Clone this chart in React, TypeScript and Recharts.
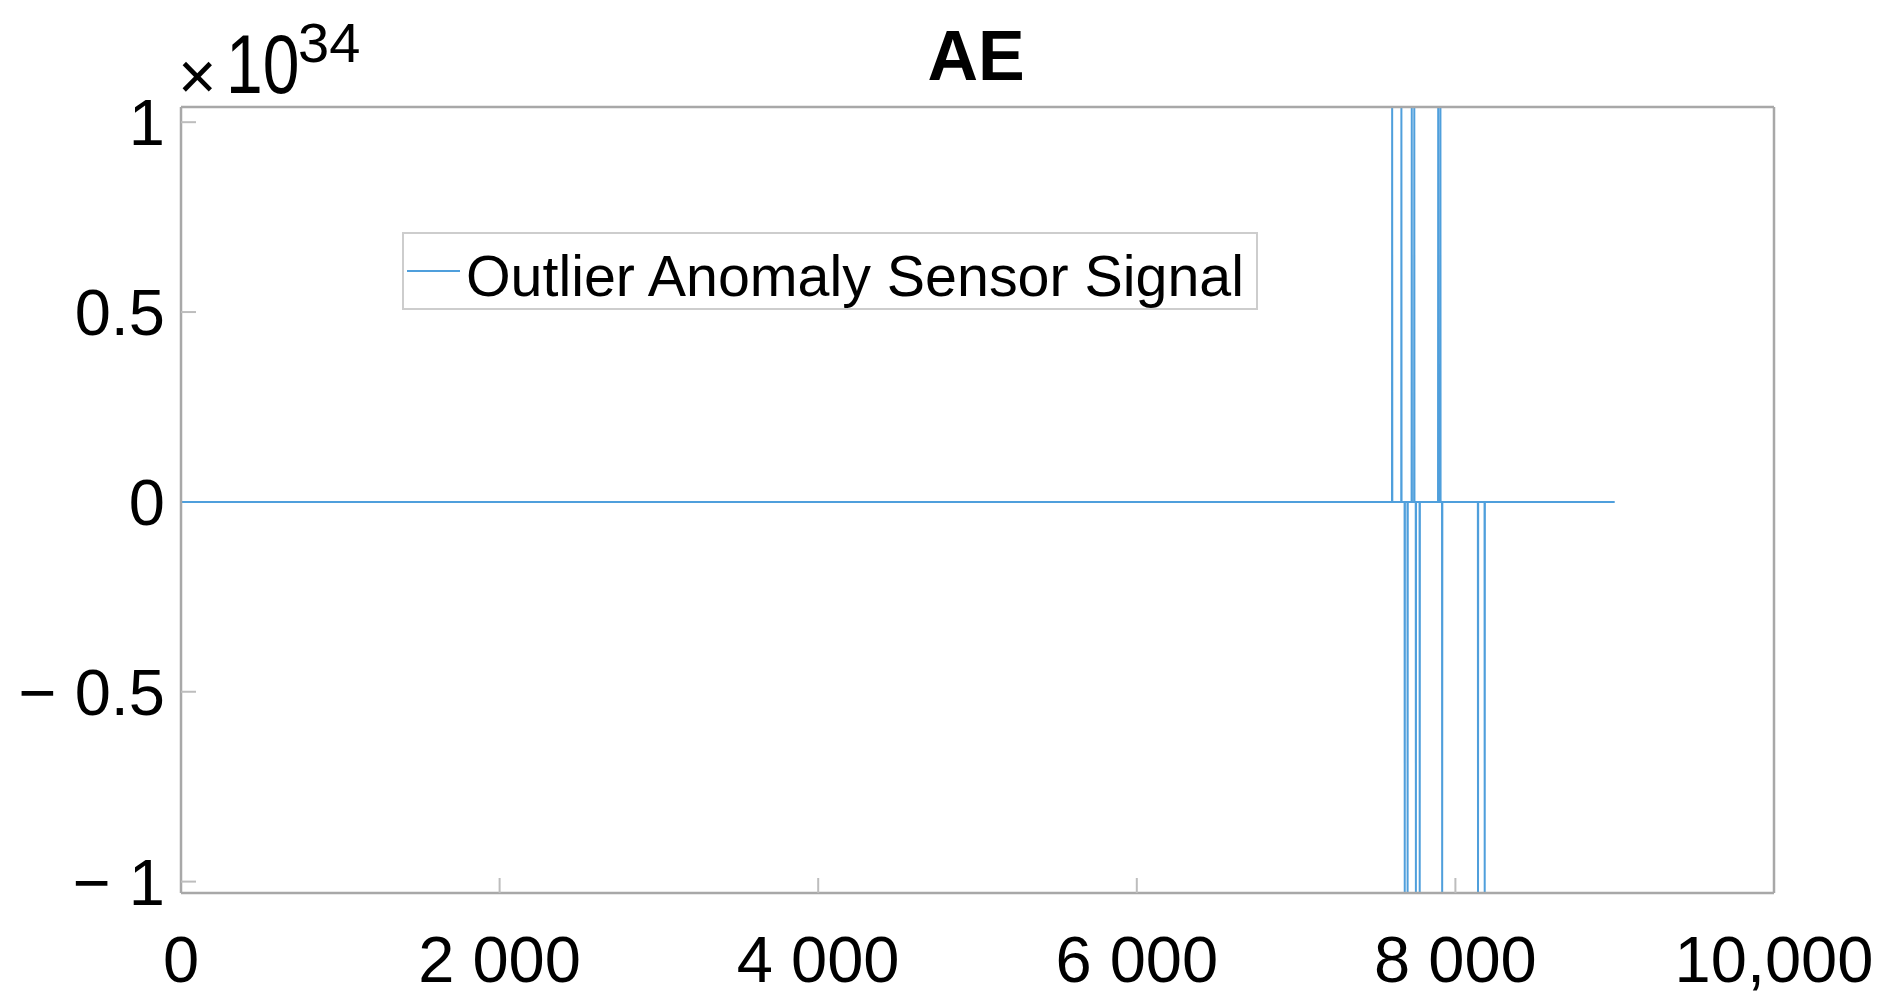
import { LineChart, Line, XAxis, YAxis, Legend } from 'recharts';

const title = 'AE';
const seriesName = 'Outlier Anomaly Sensor Signal';
const sampleCount = 9000;
// outlier samples: index and value (values in units of 1e34)
const spikeIndex = [7603, 7661, 7682, 7700, 7726, 7742, 7752, 7776, 7892, 7906, 7917, 8142, 8184];
const spikeValue = [1.04, 1.04, -1.03, -1.03, 1.04, 1.04, -1.03, -1.03, 1.04, 1.04, -1.03, -1.03, -1.03];
const xTicks = [0, 2000, 4000, 6000, 8000, 10000];
const xTickLabels = ['0', '2 000', '4 000', '6 000', '8 000', '10,000'];
const yTicks = [-1, -0.5, 0, 0.5, 1];
const yTickLabels = ['\u2212 1', '\u2212 0.5', '0', '0.5', '1'];

const font = '"Liberation Sans", Arial, sans-serif';
const blue = '#4f9fdc';
const axisGray = '#a8a8a8';
const tickGray = '#bdbdbd';
const yTickMargin = 31;

// signal is zero everywhere except the outlier samples
const data: { x: number; y: number }[] = [{ x: 0, y: 0 }];
spikeIndex.forEach((i, k) => {
  data.push({ x: i - 1, y: 0 }, { x: i, y: spikeValue[k] }, { x: i + 1, y: 0 });
});
data.push({ x: sampleCount, y: 0 });

const tickStyle = { fontSize: 65, fill: '#000', fontFamily: font };

// left tick: label plus inward mark (no mark at zero, the signal covers it there)
function YTick(props: any) {
  const { x, y, payload } = props;
  const v = payload.value;
  return (
    <g>
      {v !== 0 && (
        <line x1={x + yTickMargin - 15} x2={x + yTickMargin} y1={y} y2={y} stroke={tickGray} strokeWidth={2} />
      )}
      <text x={x} y={y} dy="0.355em" textAnchor="end" {...tickStyle}>
        {yTickLabels[yTicks.indexOf(v)]}
      </text>
    </g>
  );
}

function LegendBox(props: any) {
  const item = props.payload && props.payload[0];
  return (
    <svg width={856} height={78} style={{ display: 'block' }}>
      <rect x={1} y={1} width={854} height={76} fill="#fff" stroke="#cdcdcd" strokeWidth={2} />
      <line x1={5} x2={58} y1={39} y2={39} stroke={item ? item.color : blue} strokeWidth={2} />
      <text x={64} y={64} fontSize={58} fontFamily={font} fill="#000" textLength={778} lengthAdjust="spacingAndGlyphs">
        {item ? item.value : seriesName}
      </text>
    </svg>
  );
}

export default function App() {
  return (
    <div style={{ position: 'absolute', left: 0, top: 0, width: 1890, height: 1008, background: '#fff' }}>
      <LineChart width={1890} height={1008} data={data} margin={{ top: 47, right: 56, bottom: 55, left: 121 }}>
        <XAxis
          xAxisId="b"
          dataKey="x"
          type="number"
          domain={[0, 10000]}
          ticks={xTicks}
          interval={0}
          allowDataOverflow
          height={60}
          tickSize={-15}
          tickMargin={58}
          tickFormatter={(v: number) => xTickLabels[xTicks.indexOf(v)]}
          tick={tickStyle}
          axisLine={{ stroke: axisGray, strokeWidth: 2.5 }}
          tickLine={{ stroke: tickGray, strokeWidth: 2 }}
        />
        <XAxis
          xAxisId="t"
          orientation="top"
          type="number"
          domain={[0, 10000]}
          ticks={xTicks}
          interval={0}
          height={60}
          tickSize={-15}
          tick={false}
          axisLine={{ stroke: axisGray, strokeWidth: 2.5 }}
          tickLine={{ stroke: tickGray, strokeWidth: 2 }}
        />
        <YAxis
          yAxisId="l"
          type="number"
          domain={[-1.03, 1.04]}
          ticks={yTicks}
          interval={0}
          allowDataOverflow
          width={60}
          tickSize={-15}
          tickMargin={yTickMargin}
          tick={<YTick />}
          axisLine={{ stroke: axisGray, strokeWidth: 2.5 }}
          tickLine={false}
        />
        <YAxis
          yAxisId="r"
          orientation="right"
          type="number"
          domain={[-1.03, 1.04]}
          ticks={yTicks}
          interval={0}
          width={60}
          tickSize={-15}
          tick={false}
          axisLine={{ stroke: axisGray, strokeWidth: 2.5 }}
          tickLine={{ stroke: tickGray, strokeWidth: 2 }}
        />
        <Legend
          layout="horizontal"
          verticalAlign="middle"
          align="center"
          content={<LegendBox />}
          wrapperStyle={{ left: 402, top: 232, width: 856, height: 78 }}
        />
        <Line
          xAxisId="b"
          yAxisId="l"
          type="linear"
          dataKey="y"
          name={seriesName}
          stroke={blue}
          strokeWidth={2}
          dot={false}
          activeDot={false}
          isAnimationActive={false}
        />
      </LineChart>
      <svg width={1890} height={1008} style={{ position: 'absolute', left: 0, top: 0, pointerEvents: 'none' }}>
        <text x={976} y={80} textAnchor="middle" fontSize={70} fontWeight="bold" fontFamily={font} fill="#000">
          {title}
        </text>
        <text x={178} y={99} fontSize={66} fontFamily={font} fill="#000">
          {'\u00d7'}
        </text>
        <text x={0} y={0} fontSize={66} fontFamily={font} fill="#000" transform="translate(226 93) scale(1 1.25)">
          10
        </text>
        <text x={298} y={62} fontSize={56} fontFamily={font} fill="#000">
          34
        </text>
      </svg>
    </div>
  );
}
